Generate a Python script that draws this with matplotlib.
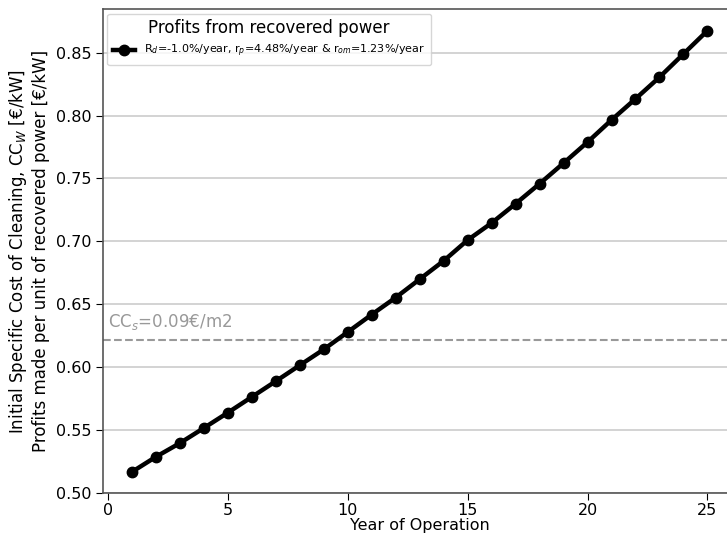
import matplotlib
matplotlib.use("Agg")
import matplotlib.pyplot as plt

# Year-by-year profit per unit of recovered power
years = list(range(1, 26))
profits = [0.5167, 0.5287, 0.5396, 0.5516, 0.5638, 0.5763, 0.5888, 0.6015,
           0.6141, 0.6279, 0.6418, 0.6553, 0.6699, 0.6845, 0.7010, 0.7146,
           0.7299, 0.7458, 0.7622, 0.7789, 0.7965, 0.8133, 0.8305, 0.8490,
           0.8675]
cleaning_cost = 0.622
cleaning_label = "CC$_s$=0.09€/m2"
series_label = ("R$_d$=-1.0%/year, r$_p$=4.48%/year & r$_{om}$=1.23%/year")
legend_title = "Profits from recovered power"

fig = plt.figure(figsize=(7.27, 5.42), dpi=100)
ax = fig.add_axes([0.1417, 0.0904, 0.871, 0.8925])

ax.grid(axis="y", color="#cccccc", linewidth=1.2)
ax.set_axisbelow(True)

ax.axhline(cleaning_cost, color="#999999", linestyle="--", linewidth=1.5)
ax.text(0.0, cleaning_cost + 0.006, cleaning_label, color="#999999",
        fontsize=12, ha="left", va="bottom")

ax.plot(years, profits, color="black", linewidth=3.2, marker="o",
        markersize=7.5, label=series_label)

ax.set_xlim(-0.2, 26.2)
ax.set_ylim(0.5, 0.8845)
ax.set_xticks([0, 5, 10, 15, 20, 25])
ax.set_yticks([0.50, 0.55, 0.60, 0.65, 0.70, 0.75, 0.80, 0.85])
ax.set_yticklabels([f"{v:.2f}" for v in ax.get_yticks()])
ax.tick_params(labelsize=11.5, colors="black", length=5)
ax.tick_params(axis="x", labelsize=11.5, pad=2)

for side in ["left", "bottom", "top", "right"]:
    ax.spines[side].set_color("#555555")
    ax.spines[side].set_linewidth(1.2)

ax.set_xlabel("Year of Operation", fontsize=11.5, labelpad=0)
ax.set_ylabel("Initial Specific Cost of Cleaning, CC$_W$ [€/kW]\n"
              "Profits made per unit of recovered power [€/kW]", fontsize=12)

leg = ax.legend(loc="upper left", title=legend_title, fontsize=8,
                title_fontsize=12, framealpha=0.8, borderaxespad=0.4,
                handlelength=2.0, borderpad=0.5)

fig.savefig("out.png", dpi=100)
